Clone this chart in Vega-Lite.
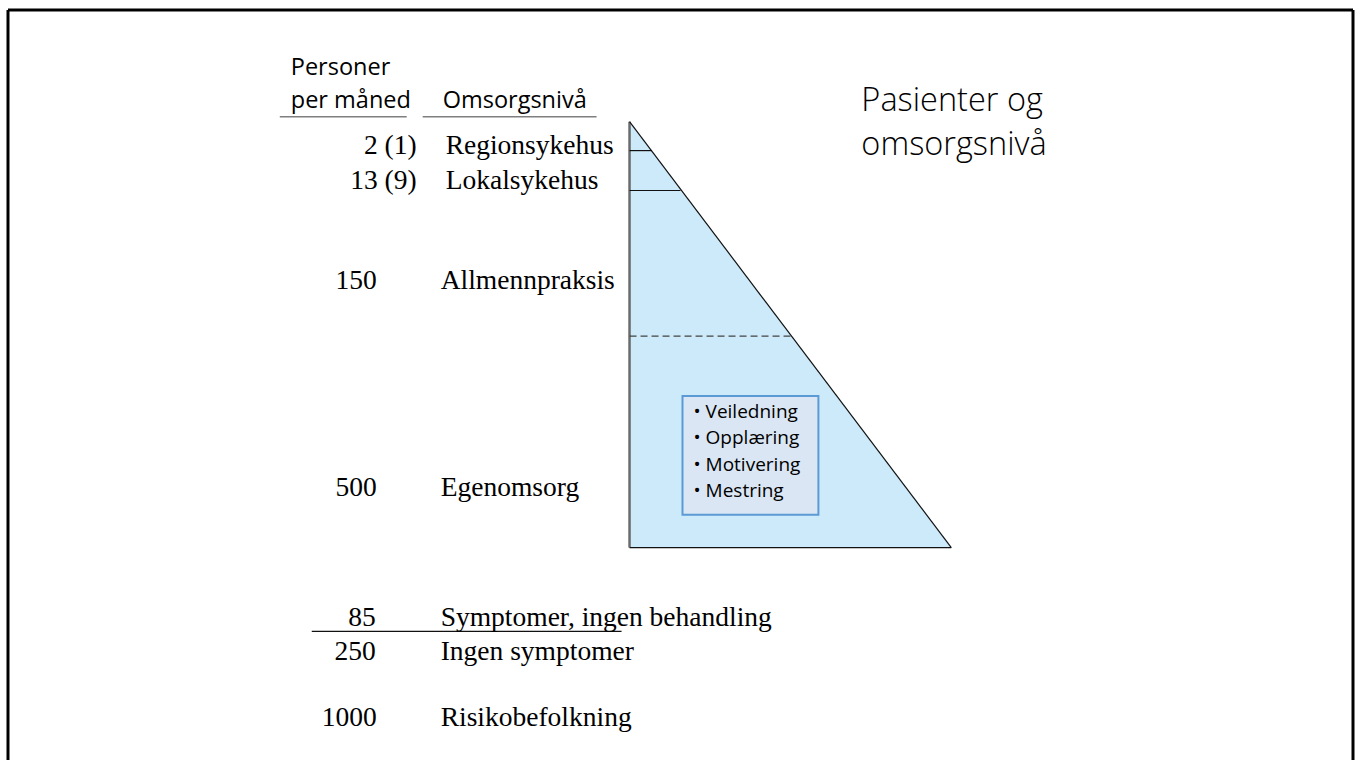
{
  "$schema": "https://vega.github.io/schema/vega-lite/v6.json",
  "width": 1355,
  "height": 762,
  "autosize": {"type": "fit", "contains": "padding"},
  "padding": 0,
  "background": "white",
  "config": {"view": {"stroke": null}},
  "datasets": {
    "triangle": [
      {"x": 630, "y": 549, "y2": 122},
      {"x": 952, "y": 549, "y2": 549}
    ],
    "lines": [
      {"kind": "frame", "x": 8, "y": 10, "x2": 1354, "y2": 10},
      {"kind": "frame", "x": 8, "y": 10, "x2": 8, "y2": 762},
      {"kind": "frame", "x": 1354, "y": 10, "x2": 1354, "y2": 762},
      {"kind": "header", "x": 280, "y": 117, "x2": 407, "y2": 117},
      {"kind": "header", "x": 423, "y": 117, "x2": 597, "y2": 117},
      {"kind": "divider", "x": 312, "y": 633, "x2": 622, "y2": 633},
      {"kind": "leftedge", "x": 630, "y": 122, "x2": 630, "y2": 549},
      {"kind": "edge", "x": 630, "y": 549, "x2": 952, "y2": 549},
      {"kind": "edge", "x": 630, "y": 122, "x2": 952, "y2": 549},
      {"kind": "level", "x": 630, "y": 151, "x2": 652, "y2": 151},
      {"kind": "level", "x": 630, "y": 191, "x2": 681, "y2": 191},
      {"kind": "dashed", "x": 630, "y": 337, "x2": 792, "y2": 337}
    ],
    "box": [
      {"x": 683, "y": 397, "x2": 819, "y2": 516}
    ],
    "texts": [
      {"role": "header", "label": "Personer", "x": 291, "y": 68},
      {"role": "header", "label": "per måned", "x": 291, "y": 101},
      {"role": "header", "label": "Omsorgsnivå", "x": 443, "y": 101},
      {"role": "count", "label": "2 (1)", "x": 417, "y": 154},
      {"role": "count", "label": "13 (9)", "x": 417, "y": 189},
      {"role": "count", "label": "150", "x": 377, "y": 290},
      {"role": "count", "label": "500", "x": 377, "y": 497},
      {"role": "count", "label": "85", "x": 376, "y": 628},
      {"role": "count", "label": "250", "x": 376, "y": 662},
      {"role": "count", "label": "1000", "x": 377, "y": 728},
      {"role": "level", "label": "Regionsykehus", "x": 446, "y": 154},
      {"role": "level", "label": "Lokalsykehus", "x": 446, "y": 189},
      {"role": "level", "label": "Allmennpraksis", "x": 441, "y": 290},
      {"role": "level", "label": "Egenomsorg", "x": 441, "y": 497},
      {"role": "level", "label": "Symptomer, ingen behandling", "x": 441, "y": 628},
      {"role": "level", "label": "Ingen symptomer", "x": 441, "y": 662},
      {"role": "level", "label": "Risikobefolkning", "x": 441, "y": 728},
      {"role": "bullet", "label": "• Veiledning", "x": 694, "y": 413},
      {"role": "bullet", "label": "• Opplæring", "x": 694, "y": 439},
      {"role": "bullet", "label": "• Motivering", "x": 694, "y": 466},
      {"role": "bullet", "label": "• Mestring", "x": 694, "y": 492},
      {"role": "title", "label": "Pasienter og", "x": 862, "y": 101},
      {"role": "title", "label": "omsorgsnivå", "x": 862, "y": 145}
    ]
  },
  "layer": [
    {
      "data": {"name": "triangle"},
      "mark": {"type": "area", "orient": "vertical", "fill": "#cdeafb", "stroke": null},
      "encoding": {
        "x": {"field": "x", "type": "quantitative", "scale": {"domain": [0, 1355], "nice": false, "zero": false}, "axis": null},
        "y": {"field": "y", "type": "quantitative", "scale": {"domain": [0, 762], "reverse": true, "nice": false, "zero": false}, "axis": null},
        "y2": {"field": "y2"}
      }
    },
    {
      "data": {"name": "box"},
      "mark": {"type": "rect", "fill": "#dae6f3", "stroke": "#5b9bd5", "strokeWidth": 2},
      "encoding": {
        "x": {"field": "x", "type": "quantitative"},
        "x2": {"field": "x2"},
        "y": {"field": "y", "type": "quantitative"},
        "y2": {"field": "y2"}
      }
    },
    {
      "data": {"name": "lines"},
      "transform": [{"filter": "datum.kind === 'frame'"}],
      "mark": {"type": "rule", "color": "#000000", "strokeWidth": 3},
      "encoding": {
        "x": {"field": "x", "type": "quantitative"}, "x2": {"field": "x2"},
        "y": {"field": "y", "type": "quantitative"}, "y2": {"field": "y2"}
      }
    },
    {
      "data": {"name": "lines"},
      "transform": [{"filter": "datum.kind === 'header'"}],
      "mark": {"type": "rule", "color": "#7f7f7f", "strokeWidth": 1.5},
      "encoding": {
        "x": {"field": "x", "type": "quantitative"}, "x2": {"field": "x2"},
        "y": {"field": "y", "type": "quantitative"}, "y2": {"field": "y2"}
      }
    },
    {
      "data": {"name": "lines"},
      "transform": [{"filter": "datum.kind === 'divider'"}],
      "mark": {"type": "rule", "color": "#111111", "strokeWidth": 1.3},
      "encoding": {
        "x": {"field": "x", "type": "quantitative"}, "x2": {"field": "x2"},
        "y": {"field": "y", "type": "quantitative"}, "y2": {"field": "y2"}
      }
    },
    {
      "data": {"name": "lines"},
      "transform": [{"filter": "datum.kind === 'leftedge'"}],
      "mark": {"type": "rule", "color": "#6b6b6b", "strokeWidth": 2.5},
      "encoding": {
        "x": {"field": "x", "type": "quantitative"}, "x2": {"field": "x2"},
        "y": {"field": "y", "type": "quantitative"}, "y2": {"field": "y2"}
      }
    },
    {
      "data": {"name": "lines"},
      "transform": [{"filter": "datum.kind === 'edge' || datum.kind === 'level'"}],
      "mark": {"type": "rule", "color": "#111111", "strokeWidth": 1.2},
      "encoding": {
        "x": {"field": "x", "type": "quantitative"}, "x2": {"field": "x2"},
        "y": {"field": "y", "type": "quantitative"}, "y2": {"field": "y2"}
      }
    },
    {
      "data": {"name": "lines"},
      "transform": [{"filter": "datum.kind === 'dashed'"}],
      "mark": {"type": "rule", "color": "#444444", "strokeWidth": 1.2, "strokeDash": [7, 4]},
      "encoding": {
        "x": {"field": "x", "type": "quantitative"}, "x2": {"field": "x2"},
        "y": {"field": "y", "type": "quantitative"}, "y2": {"field": "y2"}
      }
    },
    {
      "data": {"name": "texts"},
      "transform": [{"filter": "datum.role === 'count'"}],
      "mark": {"type": "text", "font": "Liberation Serif", "fontSize": 27.5, "align": "right", "baseline": "alphabetic", "color": "#000000"},
      "encoding": {
        "x": {"field": "x", "type": "quantitative"},
        "y": {"field": "y", "type": "quantitative"},
        "text": {"field": "label"}
      }
    },
    {
      "data": {"name": "texts"},
      "transform": [{"filter": "datum.role === 'level'"}],
      "mark": {"type": "text", "font": "Liberation Serif", "fontSize": 27.5, "align": "left", "baseline": "alphabetic", "color": "#000000"},
      "encoding": {
        "x": {"field": "x", "type": "quantitative"},
        "y": {"field": "y", "type": "quantitative"},
        "text": {"field": "label"}
      }
    },
    {
      "data": {"name": "texts"},
      "transform": [{"filter": "datum.role === 'header'"}],
      "mark": {"type": "text", "font": "Open Sans", "fontSize": 23.5, "align": "left", "baseline": "middle", "color": "#000000"},
      "encoding": {
        "x": {"field": "x", "type": "quantitative"},
        "y": {"field": "y", "type": "quantitative"},
        "text": {"field": "label"}
      }
    },
    {
      "data": {"name": "texts"},
      "transform": [{"filter": "datum.role === 'bullet'"}],
      "mark": {"type": "text", "font": "Open Sans", "fontSize": 19, "align": "left", "baseline": "middle", "color": "#000000"},
      "encoding": {
        "x": {"field": "x", "type": "quantitative"},
        "y": {"field": "y", "type": "quantitative"},
        "text": {"field": "label"}
      }
    },
    {
      "data": {"name": "texts"},
      "transform": [{"filter": "datum.role === 'title'"}],
      "mark": {"type": "text", "font": "Open Sans", "fontSize": 32.5, "fontWeight": 300, "align": "left", "baseline": "middle", "color": "#000000"},
      "encoding": {
        "x": {"field": "x", "type": "quantitative"},
        "y": {"field": "y", "type": "quantitative"},
        "text": {"field": "label"}
      }
    }
  ]
}
